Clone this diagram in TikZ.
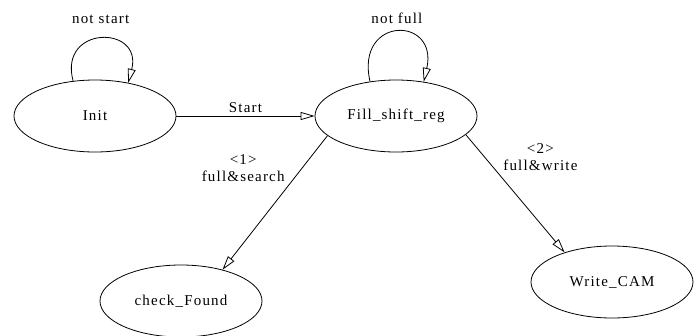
\documentclass[tikz,border=0pt]{standalone}
\usepackage{fontspec}
\setmainfont{Liberation Serif}[LetterSpace=8]
\usepackage{tikz}
\usetikzlibrary{arrows.meta, shapes.geometric}

\begin{document}
\begin{tikzpicture}[x=1pt, y=-1pt, line width=0.8pt,
  st/.style = {draw, ellipse, minimum width=162pt, minimum height=72pt, inner sep=0pt},
  tr/.style = {-{Triangle[open, length=14pt, width=8pt]}},
  font=\fontsize{15}{17}\selectfont]
\useasboundingbox (0,0) rectangle (700,335);
\node[st] (init) at (95,116) {Init};
\node[st] (fill) at (396,116) {Fill\_shift\_reg};
\node[st] (check) at (181,301) {check\_Found};
\node[st] (cam) at (612,282) {Write\_CAM};
% self loops
\draw[tr] (init.122) .. controls +(-15,-56) and +(15,-58) .. (init.45) node[pos=0.5, above=12pt] {not start};
\draw[tr] (fill.127) .. controls +(-15,-66) and +(15,-66) .. (fill.51) node[pos=0.5, above=5pt] {not full};
% transitions
\draw[tr] (init.east) -- (fill.west) node[midway, above] {Start};
\draw[tr] (fill.196) -- (check.37) node[pos=0.24, left=14pt, align=center] {<1>\\full\&search};
\draw[tr] (fill.345) -- (cam.148) node[pos=0.19, right=15pt, align=center] {<2>\\full\&write};
\end{tikzpicture}
\end{document}
